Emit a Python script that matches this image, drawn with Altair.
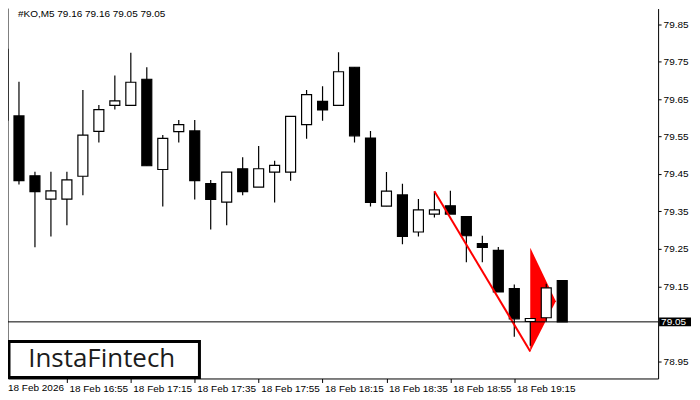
import altair as alt
import pandas as pd

# ---- data (5-minute candles, 18 Feb 2026, 16:35 .. 19:30)
start_time = "2026-02-18 16:35"
opens  = [79.783, 79.605, 79.445, 79.383, 79.383, 79.444, 79.564, 79.633, 79.633, 79.703,
          79.462, 79.563, 79.565, 79.424, 79.375, 79.464, 79.415, 79.455, 79.455, 79.582,
          79.644, 79.633, 79.735, 79.546, 79.364, 79.394, 79.295, 79.343, 79.365, 79.336,
          79.264, 79.246, 79.144, 79.056, 79.066, 79.165]
highs  = [79.833, 79.696, 79.456, 79.456, 79.456, 79.674, 79.634, 79.713, 79.774, 79.735,
          79.554, 79.594, 79.594, 79.434, 79.455, 79.495, 79.525, 79.485, 79.604, 79.674,
          79.684, 79.775, 79.735, 79.565, 79.455, 79.424, 79.383, 79.403, 79.405, 79.336,
          79.285, 79.255, 79.155, 79.064, 79.157, 79.165]
lows   = [79.554, 79.422, 79.254, 79.283, 79.313, 79.393, 79.534, 79.622, 79.633, 79.472,
          79.363, 79.534, 79.382, 79.302, 79.313, 79.393, 79.415, 79.374, 79.432, 79.544,
          79.592, 79.633, 79.534, 79.363, 79.364, 79.262, 79.283, 79.334, 79.343, 79.214,
          79.214, 79.135, 79.015, 78.991, 79.055, 79.055]
closes = [79.594, 79.432, 79.403, 79.405, 79.434, 79.554, 79.622, 79.645, 79.695, 79.472,
          79.545, 79.582, 79.432, 79.382, 79.455, 79.403, 79.464, 79.473, 79.604, 79.662,
          79.621, 79.723, 79.552, 79.374, 79.404, 79.283, 79.354, 79.354, 79.343, 79.285,
          79.254, 79.135, 79.063, 79.064, 79.146, 79.055]

# pattern (bearish pennant) drawn on the chart
pole_times = ["2026-02-18T18:50:00", "2026-02-18T19:20:00"]
pole_prices = [79.404, 78.976]
flag_times = ["2026-02-18T19:20:00", "2026-02-18T19:28:00"]
flag_top = [79.253, 79.11]
flag_bottom = [78.976, 79.11]

last_price = [79.055]
last_label = ["79.05"]
header_text = "#KO,M5  79.16 79.16 79.05 79.05"
y_ticks = [78.95, 79.15, 79.25, 79.35, 79.45, 79.55, 79.65, 79.75, 79.85]
x_tick_times = [(16, 55), (17, 15), (17, 35), (17, 55), (18, 15), (18, 35), (18, 55), (19, 15)]

W, H = 652, 371
FONT = "Liberation Sans"

times = pd.date_range(start_time, periods=len(opens), freq="5min").strftime("%Y-%m-%dT%H:%M:%S")
candles = pd.DataFrame({"t": list(times), "open": opens, "high": highs, "low": lows, "close": closes})
pole = pd.DataFrame({"t": pole_times, "p": pole_prices})
flag = pd.DataFrame({"t": flag_times, "top": flag_top, "bottom": flag_bottom})
lastdf = pd.DataFrame({"p": last_price, "label": last_label})


def dt(h, m, s=0):
    return alt.DateTime(year=2026, month=2, date=18, hours=h, minutes=m, seconds=s)


x_scale = alt.Scale(domain=[dt(16, 36, 34), dt(20, 0)], padding=0)
y_scale = alt.Scale(domain=[78.9038, 79.8918], nice=False, zero=False, padding=0)
x_axis = alt.Axis(values=[dt(h, m) for h, m in x_tick_times],
                  labelExpr="'18 Feb ' + timeFormat(datum.value, '%H:%M')",
                  labelAlign="left", labelOffset=2, labelPadding=1, tickSize=4,
                  grid=False, title=None, labelFont=FONT, labelFontSize=10,
                  labelColor="black", tickColor="black", domainColor="black",
                  labelBaseline="top", labelOverlap=False, labelFlush=False)
y_axis = alt.Axis(orient="right", values=y_ticks, format=".2f", tickSize=3,
                  labelPadding=2, grid=False, title=None, labelFont=FONT,
                  labelFontSize=10, labelColor="black", tickColor="black",
                  domainColor="black", labelBaseline="middle", labelFlush=False)


def X(field):
    return alt.X(field, type="temporal", scale=x_scale, axis=x_axis)


def Y(field):
    return alt.Y(field, type="quantitative", scale=y_scale, axis=y_axis)


wicks = alt.Chart(candles).mark_rule(color="black", strokeWidth=1.2, clip=True).encode(
    x=X("t"), y=Y("low"), y2="high")
bodies = alt.Chart(candles).mark_bar(size=10, stroke="black", strokeWidth=1.2, clip=True).encode(
    x=X("t"), y=Y("open"), y2="close",
    fill=alt.condition("datum.close >= datum.open", alt.value("white"), alt.value("black")))

flag_area = alt.Chart(flag).mark_area(color="red", opacity=1).encode(
    x=X("t"), y=Y("top"), y2="bottom")
pole_line = alt.Chart(pole).mark_line(color="red", strokeWidth=2).encode(
    x=X("t"), y=Y("p"))

price_line = alt.Chart(lastdf).mark_rule(color="black", strokeWidth=1).encode(y=Y("p"))
price_box = alt.Chart(lastdf).mark_point(
    shape="M-1,-0.28L1,-0.28L1,0.28L-1,0.28Z", size=1024, filled=True,
    fill="black", stroke=None, opacity=1).encode(x=alt.value(W + 17), y=Y("p"))
price_text = alt.Chart(lastdf).mark_text(
    color="white", align="left", baseline="middle", font=FONT, fontSize=10).encode(
    x=alt.value(W + 3), y=Y("p"), text="label:N")

one = alt.Data(values=[{}])
left_border = alt.Chart(one).mark_rule(color="black", strokeWidth=1).encode(
    x=alt.value(0), y=alt.value(0), y2=alt.value(H))
header = alt.Chart(one).mark_text(
    align="left", baseline="top", font=FONT, fontSize=10, color="black").encode(
    x=alt.value(10), y=alt.value(0), text=alt.value(header_text))
first_label = alt.Chart(one).mark_text(
    align="left", baseline="top", font=FONT, fontSize=10, color="black").encode(
    x=alt.value(0), y=alt.value(H + 5), text=alt.value("18 Feb 2026"))
logo_box = alt.Chart(one).mark_rect(fill="white", stroke="black", strokeWidth=3).encode(
    x=alt.value(1), x2=alt.value(192), y=alt.value(334), y2=alt.value(370))
logo_text = alt.Chart(one).mark_text(
    align="center", baseline="middle", font="Open Sans", fontSize=26, color="#1c1c1c").encode(
    x=alt.value(94), y=alt.value(351), text=alt.value("InstaFintech"))

chart = alt.layer(
    flag_area, wicks, bodies, pole_line, price_line, price_box, price_text,
    left_border, header, first_label, logo_box, logo_text
).properties(
    width=W, height=H,
    autosize=alt.AutoSizeParams(type="none"),
    padding={"left": 0, "top": 0, "right": 34, "bottom": 15},
).configure_view(stroke=None).configure_axis(domainWidth=1, tickWidth=1)

chart.save("out.html", embed_options={"renderer": "svg", "actions": False})
